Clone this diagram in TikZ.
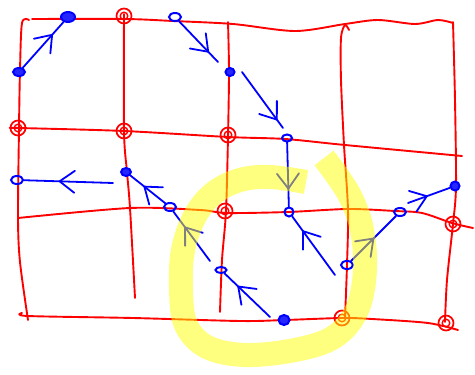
\documentclass[tikz,border=0pt]{standalone}
\usetikzlibrary{shapes.geometric,decorations.markings}
\definecolor{sred}{RGB}{255,0,0}
\definecolor{sblue}{RGB}{0,0,255}
\definecolor{syel}{RGB}{255,255,0}
\tikzset{
  redline/.style={sred, line width=1.9pt, line cap=round, line join=round},
  rdot/.style={circle, draw=sred, line width=1.7pt, minimum size=15pt, inner sep=0pt,
     path picture={\draw[sred, line width=1.4pt] (path picture bounding box.center) circle (3.8pt);}},
  bdot/.style={ellipse, draw=sblue, line width=2pt, minimum width=12pt, minimum height=8pt, inner sep=0pt},
  bfill/.style={bdot, fill=sblue!85},
  bline/.style={sblue, line width=1.8pt, line cap=round},
  barbat/.style={postaction={decorate}, decoration={markings, mark=at position #1 with {\draw[sblue, line width=1.8pt, line cap=round, line join=round] (-15pt,11pt) -- (0pt,0pt) -- (-15pt,-11pt);}}},
  ring/.style={syel, opacity=0.5, line width=24pt, line cap=butt, line join=round}
}
\begin{document}
\begin{tikzpicture}[x=1pt,y=-1pt]
\useasboundingbox (0,0) rectangle (475,375);
% red grid
\draw[redline] plot[smooth, tension=0.5] coordinates {(32,19) (125,19) (173,21) (233,24) (295,31) (345,24) (378,20) (415,24) (438,20) (453,23)};
\draw[redline] plot[smooth, tension=0.5] coordinates {(29,20) (22,23) (20,70) (19,128) (18,218) (20,262) (28,320)};
\draw[redline] plot[smooth, tension=0.5] coordinates {(12,128) (19,128) (124,131) (228,137) (285,139) (345,145) (462,156)};
\draw[redline] plot[smooth, tension=0.5] coordinates {(18,218) (130,208) (200,210) (227,213) (288,212) (348,209) (395,211) (422,213) (452,223) (473,228)};
\draw[redline] plot[smooth, tension=0.5] coordinates {(22,313) (28,316) (133,318) (240,321) (285,320) (342,318) (372,319) (428,323) (458,330)};
\draw[redline] plot[smooth, tension=0.5] coordinates {(124,14) (124,131) (127,172) (130,208) (135,298)};
\draw[redline] plot[smooth, tension=0.5] coordinates {(228,22) (229,72) (228,137) (226,211) (222,260) (220,312)};
\draw[redline] plot[smooth, tension=0.5] coordinates {(349,30) (345,25) (341,38) (341,80) (344,145) (348,210) (347,265) (345,318)};
\draw[redline] plot[smooth, tension=0.5] coordinates {(453,22) (455,100) (456,186) (453,224) (447,280) (445,322)};
% red nodes
\node[rdot] (rA) at (124,16) {};
\node[rdot] (rB) at (18,128) {};
\node[rdot] (rC) at (124,131) {};
\node[rdot] (rD) at (228,135) {};
\node[rdot] (rE) at (225,211) {};
\node[rdot] (rF) at (453,224) {};
\node[rdot] (rG) at (342,318) {};
\node[rdot] (rH) at (446,323) {};
% blue nodes
\node[bfill, minimum width=14pt, minimum height=10pt] (bA) at (68,17) {};
\node[bfill] (bB) at (19,72) {};
\node[bdot] (bC) at (175,17) {};
\node[bfill, minimum width=9pt, minimum height=8pt] (bD) at (230,72) {};
\node[bdot, minimum width=10pt, minimum height=7pt] (bE) at (287,138) {};
\node[bdot, minimum width=9pt, minimum height=9pt] (bF) at (289,212) {};
\node[bdot] (bG) at (17,180) {};
\node[bfill, minimum width=10pt] (bH) at (126,172) {};
\node[bdot] (bI) at (170,207) {};
\node[bdot, minimum width=11pt, minimum height=6pt] (bJ) at (221,270) {};
\node[bfill, minimum width=11pt, minimum height=10pt] (bK) at (284,320) {};
\node[bdot] (bL) at (347,265) {};
\node[bdot] (bM) at (400,212) {};
\node[bfill, minimum width=9pt, minimum height=9pt] (bN) at (455,186) {};
% free ends
\coordinate (c2) at (218,62);
\coordinate (c3s) at (242,72);
\coordinate (c3e) at (283,128);
\coordinate (c5s) at (113,183);
\coordinate (c7s) at (210,261);
\coordinate (c8s) at (270,317);
\coordinate (c9s) at (335,275);
\coordinate (c11s) at (408,203);
% blue arrows
\draw[bline, barbat=0.72] (bB) -- (bA);
\draw[bline, barbat=0.75] (bC) -- (c2);
\draw[bline, barbat=0.85] (c3s) -- (c3e);
\draw[bline, barbat=0.72] (bE) -- (bF);
\draw[bline, barbat=0.6] (c5s) -- (bG);
\draw[bline, barbat=0.6] (bI) -- (bH);
\draw[bline, barbat=0.68] (c7s) -- (bI);
\draw[bline, barbat=0.7] (c8s) -- (bJ);
\draw[bline, barbat=0.75] (c9s) -- (bF);
\draw[bline, barbat=0.5] (bL) -- (bM);
\draw[bline, barbat=0.45] (c11s) -- (bN);
% yellow ring
\draw[ring] plot[smooth, tension=0.6] coordinates {(306,182) (270,177) (240,180) (214,193) (195,216) (183,250) (181,290) (186,325) (207,347) (245,355) (295,350) (334,337) (357,310) (365,270) (362,230) (352,200) (338,177) (324,158)};
\end{tikzpicture}
\end{document}
